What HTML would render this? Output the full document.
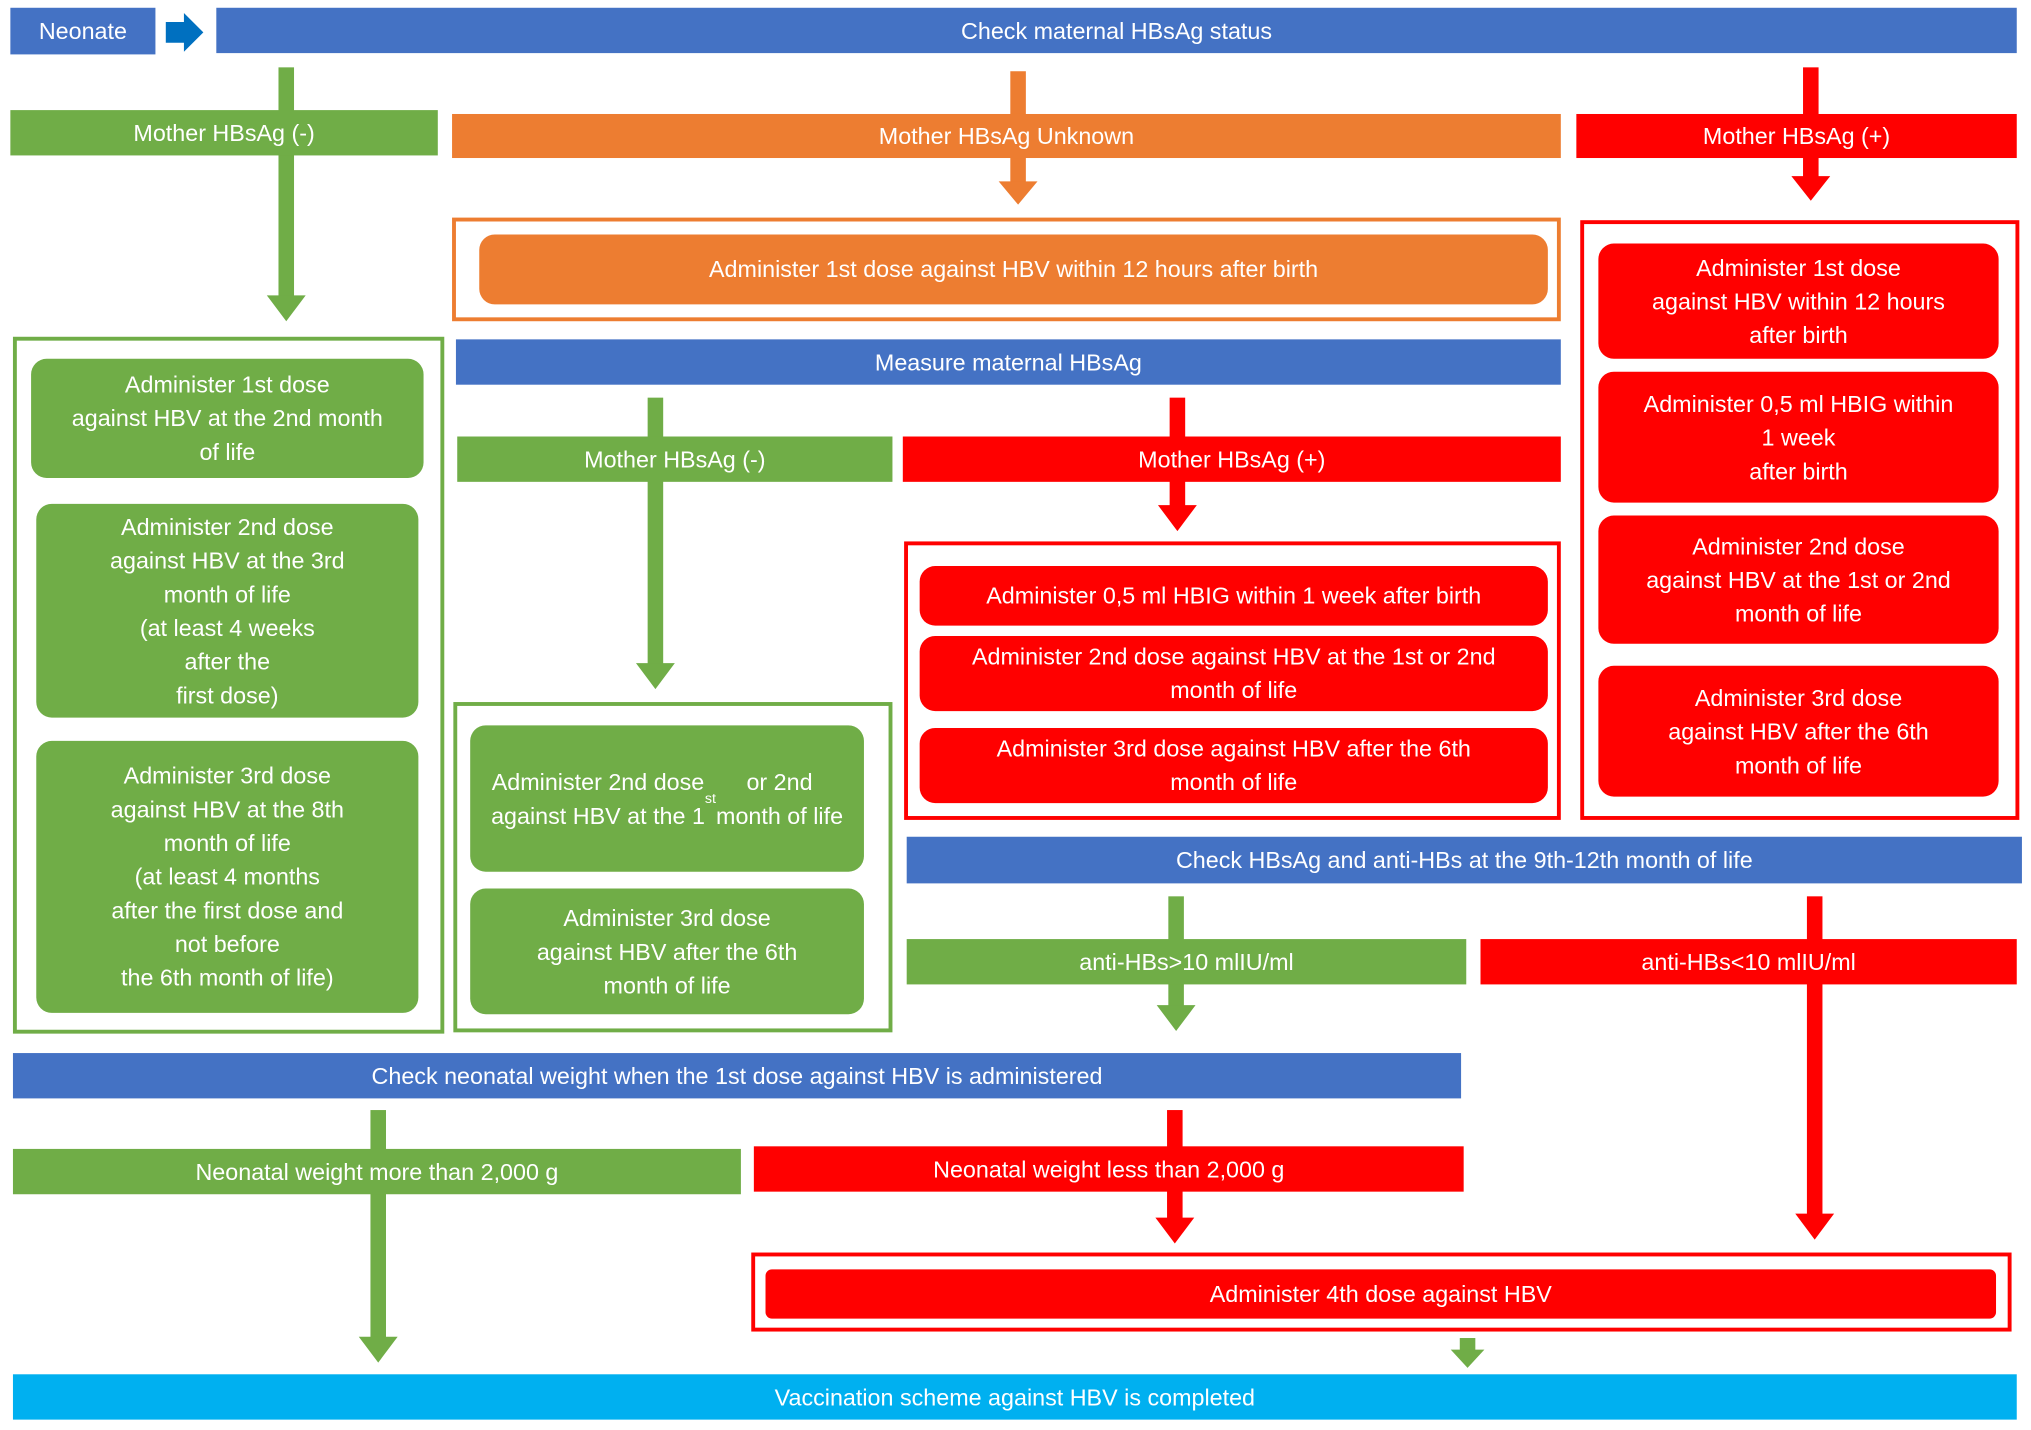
<!DOCTYPE html>
<html><head><meta charset="utf-8"><style>
html,body{margin:0;padding:0;background:#fff;width:2031px;height:1430px;overflow:hidden}
#c{position:absolute;left:0;top:0;width:1568px;height:1104px;transform:scale(1.29528);transform-origin:0 0;font-family:"Liberation Sans",Arial,sans-serif;color:#fff}
.b{position:absolute;display:flex;align-items:center;justify-content:center;text-align:center;font-size:18px;line-height:26px;box-sizing:border-box}
.bl{background:#4472C4}.gr{background:#70AD47}.rd{background:#FF0000}.or{background:#ED7D31}
.r{border-radius:12px}
.o{position:absolute;box-sizing:border-box;border:3px solid}
svg{position:absolute;left:0;top:0}
</style></head><body><div id="c">
<svg width="1568" height="1104">
<g fill="#70AD47">
<rect x="215" y="52" width="12" height="178"/><polygon points="206,228 236,228 221,248"/>
<rect x="500" y="307" width="12" height="207"/><polygon points="491,512 521,512 506,532"/>
<rect x="902" y="692" width="12" height="86"/><polygon points="893,776 923,776 908,796"/>
<rect x="286" y="857" width="12" height="177"/><polygon points="277,1032 307,1032 292,1052"/>
<rect x="1127" y="1033" width="12" height="10"/><polygon points="1120,1042 1146,1042 1133,1056"/>
</g>
<g fill="#ED7D31"><rect x="780" y="55" width="12" height="87"/><polygon points="771,140 801,140 786,158"/></g>
<g fill="#FF0000">
<rect x="1392" y="52" width="12" height="86"/><polygon points="1383,136 1413,136 1398,155"/>
<rect x="903" y="307" width="12" height="85"/><polygon points="894,390 924,390 909,410"/>
<rect x="1395" y="692" width="12" height="247"/><polygon points="1386,937 1416,937 1401,957"/>
<rect x="901" y="857" width="12" height="85"/><polygon points="892,940 922,940 907,960"/>
</g>
<polygon points="128,17 142,17 142,10 157,25 142,40 142,33 128,33" fill="#0070C0"/>
</svg>
<div class="b bl" style="left:8px;top:6px;width:112px;height:36px">Neonate</div>
<div class="b bl" style="left:167px;top:6px;width:1390px;height:35px">Check maternal HBsAg status</div>
<div class="b gr" style="left:8px;top:85px;width:330px;height:35px">Mother HBsAg (-)</div>
<div class="b or" style="left:349px;top:88px;width:856px;height:34px">Mother HBsAg Unknown</div>
<div class="b rd" style="left:1217px;top:88px;width:340px;height:34px">Mother HBsAg (+)</div>
<div class="o" style="left:349px;top:168px;width:856px;height:80px;border-color:#ED7D31"></div>
<div class="b or r" style="left:370px;top:181px;width:825px;height:54px">Administer 1st dose against HBV within 12 hours after birth</div>
<div class="b bl" style="left:352px;top:262px;width:853px;height:35px">Measure maternal HBsAg</div>
<div class="b gr" style="left:353px;top:337px;width:336px;height:35px">Mother HBsAg (-)</div>
<div class="b rd" style="left:697px;top:337px;width:508px;height:35px">Mother HBsAg (+)</div>
<div class="o" style="left:698px;top:418px;width:507px;height:215px;border-color:#FF0000"></div>
<div class="b rd r" style="left:710px;top:437px;width:485px;height:46px">Administer 0,5 ml HBIG within 1 week after birth</div>
<div class="b rd r" style="left:710px;top:491px;width:485px;height:58px">Administer 2nd dose against HBV at the 1st or 2nd<br>month of life</div>
<div class="b rd r" style="left:710px;top:562px;width:485px;height:58px">Administer 3rd dose against HBV after the 6th<br>month of life</div>
<div class="o" style="left:1220px;top:170px;width:339px;height:463px;border-color:#FF0000"></div>
<div class="b rd r" style="left:1234px;top:188px;width:309px;height:89px">Administer 1st dose<br>against HBV within 12 hours<br>after birth</div>
<div class="b rd r" style="left:1234px;top:287px;width:309px;height:101px">Administer 0,5 ml HBIG within<br>1 week<br>after birth</div>
<div class="b rd r" style="left:1234px;top:398px;width:309px;height:99px">Administer 2nd dose<br>against HBV at the 1st or 2nd<br>month of life</div>
<div class="b rd r" style="left:1234px;top:514px;width:309px;height:101px">Administer 3rd dose<br>against HBV after the 6th<br>month of life</div>
<div class="o" style="left:10px;top:260px;width:333px;height:538px;border-color:#70AD47"></div>
<div class="b gr r" style="left:24px;top:277px;width:303px;height:92px">Administer 1st dose<br>against HBV at the 2nd month<br>of life</div>
<div class="b gr r" style="left:28px;top:389px;width:295px;height:165px">Administer 2nd dose<br>against HBV at the 3rd<br>month of life<br>(at least 4 weeks<br>after the<br>first dose)</div>
<div class="b gr r" style="left:28px;top:572px;width:295px;height:210px">Administer 3rd dose<br>against HBV at the 8th<br>month of life<br>(at least 4 months<br>after the first dose and<br>not before<br>the 6th month of life)</div>
<div class="o" style="left:350px;top:542px;width:339px;height:255px;border-color:#70AD47"></div>
<div class="b gr r" style="left:363px;top:560px;width:304px;height:113px">Administer 2nd dose<br>against HBV at the 1<sup style="font-size:11px;line-height:0">st</sup> or 2nd<br>month of life</div>
<div class="b gr r" style="left:363px;top:686px;width:304px;height:97px">Administer 3rd dose<br>against HBV after the 6th<br>month of life</div>
<div class="b bl" style="left:700px;top:646px;width:861px;height:36px">Check HBsAg and anti-HBs at the 9th-12th month of life</div>
<div class="b gr" style="left:700px;top:725px;width:432px;height:35px">anti-HBs&gt;10 mlIU/ml</div>
<div class="b rd" style="left:1143px;top:725px;width:414px;height:35px">anti-HBs&lt;10 mlIU/ml</div>
<div class="b bl" style="left:10px;top:813px;width:1118px;height:35px">Check neonatal weight when the 1st dose against HBV is administered</div>
<div class="b gr" style="left:10px;top:887px;width:562px;height:35px">Neonatal weight more than 2,000 g</div>
<div class="b rd" style="left:582px;top:885px;width:548px;height:35px">Neonatal weight less than 2,000 g</div>
<div class="o" style="left:580px;top:967px;width:973px;height:61px;border-color:#FF0000"></div>
<div class="b rd" style="left:591px;top:980px;width:950px;height:38px;border-radius:5px">Administer 4th dose against HBV</div>
<div class="b" style="left:10px;top:1061px;width:1547px;height:35px;background:#00B0F0">Vaccination scheme against HBV is completed</div>
</div></body></html>
